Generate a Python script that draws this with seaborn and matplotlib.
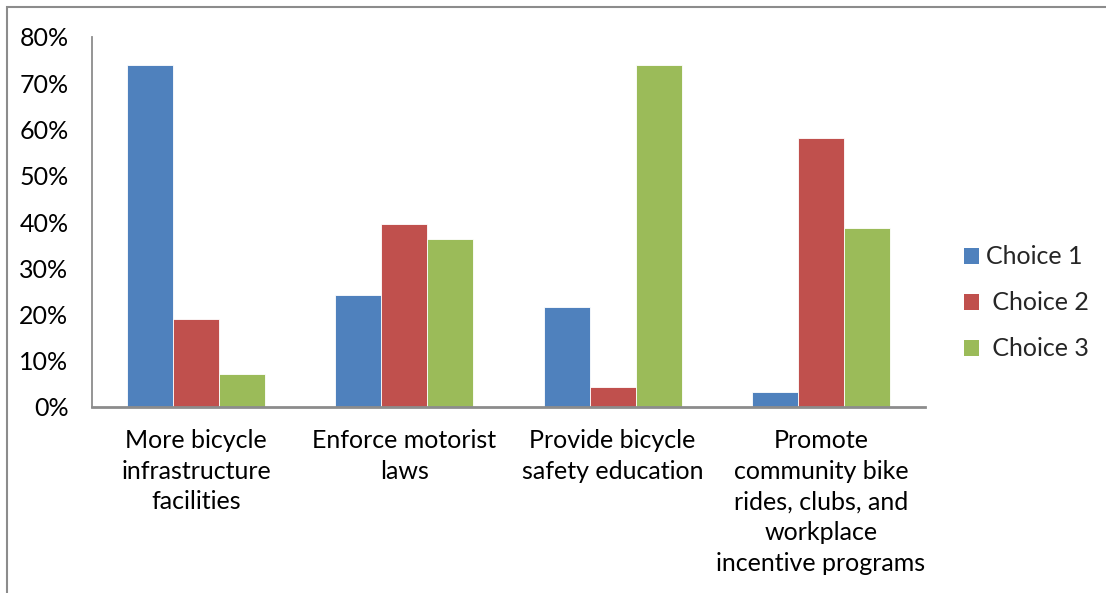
import matplotlib
matplotlib.use("Agg")
import matplotlib.pyplot as plt
from matplotlib.patches import Rectangle
from matplotlib.ticker import FuncFormatter
import seaborn as sns
import pandas as pd

categories = [
    "More bicycle\ninfrastructure\nfacilities",
    "Enforce motorist\nlaws",
    "Provide bicycle\nsafety education",
    "Promote\ncommunity bike\nrides, clubs, and\nworkplace\nincentive programs",
]
series = ["Choice 1", " Choice 2", " Choice 3"]
choice1 = [74.0, 24.2, 21.7, 3.2]
choice2 = [19.0, 39.5, 4.3, 58.1]
choice3 = [7.1, 36.4, 74.0, 38.8]
colors = ["#4F81BD", "#C0504D", "#9BBB59"]

rows = []
for name, vals in zip(series, [choice1, choice2, choice3]):
    for cat, v in zip(categories, vals):
        rows.append({"category": cat, "series": name, "value": v})
df = pd.DataFrame(rows)

sns.set_theme(style="white")
plt.rcParams["font.family"] = ["Lato", "DejaVu Sans"]

W, H = 1106, 593
fig = plt.figure(figsize=(W / 100, H / 100), dpi=100)
fig.patch.set_facecolor("white")

ax = fig.add_axes([92 / W, 1 - 407 / H, (925 - 92) / W, (407 - 37) / H])
sns.barplot(
    data=df, x="category", y="value", hue="series",
    palette=colors, saturation=1, width=0.663, ax=ax,
    edgecolor="white", linewidth=0.6,
)

ax.set_ylim(0, 80)
ax.set_xlim(-0.5, len(categories) - 0.5)
ax.set_yticks(range(0, 81, 10))
ax.yaxis.set_major_formatter(FuncFormatter(lambda v, _: f"{v:.0f}%"))
ax.set_xlabel("")
ax.set_ylabel("")
ax.tick_params(axis="both", length=0, labelsize=18, colors="black")
ax.tick_params(axis="y", pad=17)
ax.tick_params(axis="x", pad=16)
for lab in ax.get_xticklabels():
    lab.set_linespacing(1.4)
    lab.set_horizontalalignment("center")

for side in ["top", "right"]:
    ax.spines[side].set_visible(False)
ax.spines["left"].set_color("#8C8C8C")
ax.spines["left"].set_linewidth(1.3)
ax.spines["bottom"].set_color("#8C8C8C")
ax.spines["bottom"].set_linewidth(2.0)

ax.get_legend().remove()
handles = [Rectangle((0, 0), 1, 1, facecolor=c, edgecolor="none") for c in colors]
fig.legend(
    handles, series, loc="center left",
    bbox_to_anchor=(964 / W, 1 - 303 / H), bbox_transform=fig.transFigure,
    frameon=False, fontsize=18, handlelength=0.6, handleheight=0.6,
    handletextpad=0.3, labelspacing=0.92, borderpad=0, borderaxespad=0,
)

# outer chart frame
fig.add_artist(Rectangle((7 / W, -0.05), 1.1, 1 - 7 / H + 0.05,
                         transform=fig.transFigure, fill=False,
                         edgecolor="#8C8C8C", linewidth=1.5))

fig.savefig("out.png", dpi=100, facecolor="white")
